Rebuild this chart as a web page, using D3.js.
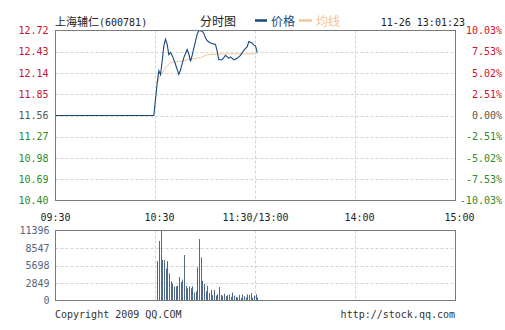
<!DOCTYPE html>
<html>
<head>
<meta charset="utf-8">
<script src="https://cdn.jsdelivr.net/npm/d3@7"></script>
<style>
  body { margin: 0; background: #fff; }
  svg text { font-family: "DejaVu Sans Mono", "Liberation Mono", monospace; font-size: 10px; }
  .cjk { font-family: "Noto Sans CJK SC", sans-serif; font-size: 12px; }
</style>
</head>
<body>
<div class="chart"></div>
<script>
// price ticks (left) and percent change ticks (right)
var priceTicks = [12.72, 12.43, 12.14, 11.85, 11.56, 11.27, 10.98, 10.69, 10.40];
var pctTicks = ["10.03%", "7.53%", "5.02%", "2.51%", "0.00%", "-2.51%", "-5.02%", "-7.53%", "-10.03%"];
var prevClose = 11.56;

var timeTicks = ["09:30", "10:30", "11:30/13:00", "14:00", "15:00"];
var timeTickPos = ["09:30", "10:30", "13:00", "14:00", "15:00"];

var volTicks = [11396, 8547, 5698, 2849, 0];

// minute price line
var priceTimes = ["09:30", "10:29", "10:31", "10:32", "10:33", "10:34", "10:35", "10:36", "10:37", "10:38",
  "10:39", "10:40", "10:42", "10:44", "10:45", "10:47", "10:49", "10:50", "10:51", "10:52",
  "10:55", "10:56", "10:58", "10:59", "11:00", "11:01", "11:03", "11:06", "11:07", "11:08",
  "11:10", "11:12", "11:14", "11:15", "11:17", "11:19", "11:21", "11:23", "11:25", "11:26",
  "11:28", "11:29", "13:00", "13:01"];
var priceValues = [11.56, 11.56, 12.00, 12.17, 12.12, 12.30, 12.51, 12.60, 12.53, 12.39,
  12.42, 12.38, 12.26, 12.12, 12.18, 12.35, 12.46, 12.40, 12.30, 12.38,
  12.67, 12.72, 12.71, 12.68, 12.62, 12.58, 12.55, 12.53, 12.44, 12.32,
  12.32, 12.38, 12.34, 12.36, 12.32, 12.34, 12.38, 12.45, 12.50, 12.57,
  12.55, 12.52, 12.51, 12.42];

// average price line
var avgTimes = ["10:31", "10:32", "10:36", "10:39", "10:45", "10:51", "10:57", "11:01", "11:10", "11:20", "11:29", "13:01"];
var avgValues = [12.00, 12.07, 12.21, 12.28, 12.30, 12.33, 12.35, 12.39, 12.40, 12.40, 12.40, 12.41];

// minute volume
var volTimes = ["10:31", "10:32", "10:33", "10:34", "10:35", "10:36", "10:37", "10:38", "10:39", "10:40",
  "10:41", "10:42", "10:43", "10:44", "10:45", "10:46", "10:47", "10:48", "10:49", "10:50",
  "10:51", "10:52", "10:53", "10:54", "10:55", "10:56", "10:57", "10:58", "10:59", "11:00",
  "11:01", "11:02", "11:03", "11:04", "11:05", "11:06", "11:07", "11:08", "11:09", "11:10",
  "11:11", "11:12", "11:13", "11:14", "11:15", "11:16", "11:17", "11:18", "11:19", "11:20",
  "11:21", "11:22", "11:23", "11:24", "11:25", "11:26", "11:27", "11:28", "11:29", "13:00", "13:01"];
var volValues = [6400, 9700, 11396, 6600, 6600, 5200, 6400, 4400, 3100, 2750,
  2300, 2300, 2400, 3800, 3000, 3400, 7400, 2400, 2000, 2300,
  2000, 2300, 1300, 1500, 5400, 10000, 7000, 3200, 2700, 1500,
  2400, 1200, 1700, 900, 1700, 800, 1000, 2200, 900, 800,
  1100, 700, 900, 1000, 600, 1300, 800, 600, 500, 900,
  400, 1000, 700, 500, 1000, 900, 1200, 500, 800, 1000, 500];

// trading minute index: 09:30 -> 0, 11:30 / 13:00 -> 120, 15:00 -> 240
function minuteIndex(t) {
  var p = t.split(":"), m = +p[0] * 60 + +p[1];
  return m < 12 * 60 ? m - 570 : m - 780 + 120;
}

var svg = d3.select(".chart").append("svg")
  .attr("width", 505)
  .attr("height", 330);

var left = 55.5, right = 455.5;
var main = {top: 30.5, bottom: 200.5};
var vol = {top: 230.5, bottom: 300.5};

var xScale = d3.scaleLinear().domain([0, 240]).range([left, right]);
var yScale = d3.scaleLinear().domain([10.40, 12.72]).range([main.bottom, main.top]);
var vScale = d3.scaleLinear().domain([0, 11396]).range([vol.bottom, vol.top]);

var grid = "#d4d4d4";
var red = "#cc1133", green = "#2f8a1f", gray = "#555";

function priceColor(v) {
  return v > prevClose + 1e-9 ? red : (v < prevClose - 1e-9 ? green : gray);
}

// gridlines, main panel
svg.append("g").selectAll("line")
  .data(priceTicks.slice(1, -1))
  .join("line")
  .attr("x1", left).attr("x2", right)
  .attr("y1", d => Math.round(yScale(d)) + 0.5).attr("y2", d => Math.round(yScale(d)) + 0.5)
  .attr("stroke", grid).attr("stroke-dasharray", "3,2");

svg.append("g").selectAll("line")
  .data(timeTickPos.slice(1, -1))
  .join("line")
  .attr("x1", d => xScale(minuteIndex(d))).attr("x2", d => xScale(minuteIndex(d)))
  .attr("y1", main.top).attr("y2", main.bottom)
  .attr("stroke", grid).attr("stroke-dasharray", "3,2");

// gridlines, volume panel
svg.append("g").selectAll("line")
  .data(volTicks.slice(1, -1))
  .join("line")
  .attr("x1", left).attr("x2", right)
  .attr("y1", d => Math.round(vScale(d)) + 0.5).attr("y2", d => Math.round(vScale(d)) + 0.5)
  .attr("stroke", grid).attr("stroke-dasharray", "3,2");

svg.append("g").selectAll("line")
  .data(timeTickPos.slice(1, -1))
  .join("line")
  .attr("x1", d => xScale(minuteIndex(d))).attr("x2", d => xScale(minuteIndex(d)))
  .attr("y1", vol.top).attr("y2", vol.bottom)
  .attr("stroke", grid).attr("stroke-dasharray", "3,2");

// volume bars
svg.append("g").selectAll("line")
  .data(volTimes.map((t, i) => ({t: t, v: volValues[i]})))
  .join("line")
  .attr("x1", d => Math.round(xScale(minuteIndex(d.t))) + 0.5)
  .attr("x2", d => Math.round(xScale(minuteIndex(d.t))) + 0.5)
  .attr("y1", vScale(0))
  .attr("y2", d => vScale(d.v))
  .attr("stroke", "#4d6a8c")
  .attr("stroke-width", 1);

// average line
var avgLine = d3.line()
  .x(d => xScale(minuteIndex(d.t)))
  .y(d => yScale(d.v));

svg.append("path")
  .datum(avgTimes.map((t, i) => ({t: t, v: avgValues[i]})))
  .attr("d", avgLine)
  .attr("fill", "none")
  .attr("stroke", "#f2c493")
  .attr("stroke-width", 1);

// price line
svg.append("path")
  .datum(priceTimes.map((t, i) => ({t: t, v: priceValues[i]})))
  .attr("d", avgLine)
  .attr("fill", "none")
  .attr("stroke", "#17487f")
  .attr("stroke-width", 1.1);

// panel borders
[main, vol].forEach(function(p) {
  svg.append("rect")
    .attr("x", left).attr("y", p.top)
    .attr("width", right - left).attr("height", p.bottom - p.top)
    .attr("fill", "none")
    .attr("stroke", "#7a7a7a");
});

// left price axis
var yAxis = svg.append("g")
  .attr("transform", "translate(" + (left - 4) + ",0)")
  .call(d3.axisLeft(yScale).tickValues(priceTicks).tickSize(0).tickFormat(d3.format(".2f")));
yAxis.select(".domain").remove();
yAxis.selectAll("text")
  .attr("fill", d => priceColor(d))
  .style("font-family", "DejaVu Sans Mono")
  .style("font-size", "10px");

// right percent axis
svg.append("g").selectAll("text")
  .data(priceTicks)
  .join("text")
  .attr("x", 502)
  .attr("y", d => yScale(d))
  .attr("dy", "0.35em")
  .attr("text-anchor", "end")
  .attr("fill", d => priceColor(d))
  .text((d, i) => pctTicks[i]);

// time axis labels
svg.append("g").selectAll("text")
  .data(timeTicks)
  .join("text")
  .attr("x", (d, i) => xScale(minuteIndex(timeTickPos[i])) + (i == 0 || i == 2 ? 0 : 4))
  .attr("y", 217)
  .attr("dy", "0.35em")
  .attr("text-anchor", "middle")
  .attr("fill", "#222")
  .text(d => d);

// volume axis
var vAxis = svg.append("g")
  .attr("transform", "translate(" + (left - 3) + ",0)")
  .call(d3.axisLeft(vScale).tickValues(volTicks).tickSize(0).tickFormat(d3.format("d")));
vAxis.select(".domain").remove();
vAxis.selectAll("text")
  .attr("fill", "#4f6682")
  .style("font-family", "DejaVu Sans Mono")
  .style("font-size", "10px");

// header
svg.append("text")
  .attr("x", 55).attr("y", 26)
  .attr("class", "cjk")
  .style("font-size", "11px")
  .attr("fill", "#222")
  .text("上海辅仁");
svg.append("text")
  .attr("x", 99).attr("y", 26)
  .attr("fill", "#222")
  .text("(600781)");

svg.append("text")
  .attr("x", 200).attr("y", 26)
  .attr("class", "cjk")
  .attr("fill", "#222")
  .text("分时图");

svg.append("line")
  .attr("x1", 255).attr("x2", 267).attr("y1", 20.5).attr("y2", 20.5)
  .attr("stroke", "#17487f").attr("stroke-width", 2.5);
svg.append("text")
  .attr("x", 271).attr("y", 26)
  .attr("class", "cjk")
  .attr("fill", "#17487f")
  .text("价格");

svg.append("line")
  .attr("x1", 299).attr("x2", 312).attr("y1", 20.5).attr("y2", 20.5)
  .attr("stroke", "#f2c493").attr("stroke-width", 2.5);
svg.append("text")
  .attr("x", 316).attr("y", 26)
  .attr("class", "cjk")
  .attr("fill", "#f2c493")
  .text("均线");

svg.append("text")
  .attr("x", 465).attr("y", 26)
  .attr("text-anchor", "end")
  .attr("fill", "#222")
  .text("11-26 13:01:23");

// footer
svg.append("text")
  .attr("x", 55).attr("y", 318)
  .attr("fill", "#333")
  .text("Copyright 2009 QQ.COM");

svg.append("text")
  .attr("x", 455).attr("y", 318)
  .attr("text-anchor", "end")
  .attr("fill", "#333")
  .text("http://stock.qq.com");
</script>
</body>
</html>
